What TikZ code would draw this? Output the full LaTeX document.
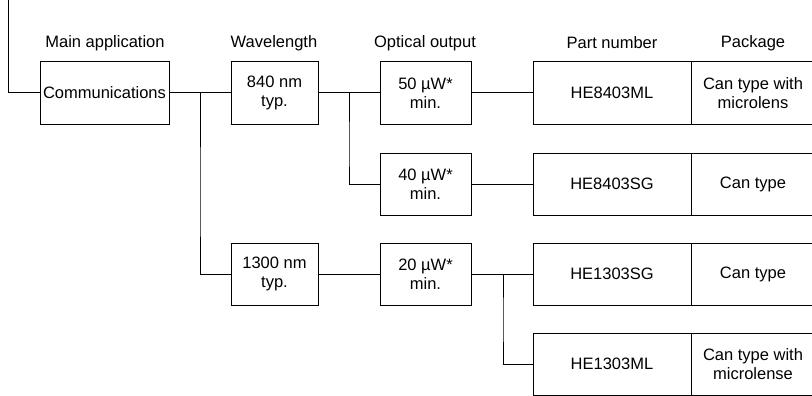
\documentclass[tikz,border=0pt]{standalone}
\usepackage{fontspec}
\setmainfont{Liberation Sans}
\usetikzlibrary{positioning}

\begin{document}
\begin{tikzpicture}[x=1pt,y=-1pt,
  every node/.style={font=\fontsize{16.5}{19.5}\selectfont},
  blk/.style={draw,line width=1pt,rectangle,align=center,minimum height=62pt,inner sep=0pt},
  wire/.style={line width=1pt}]
\useasboundingbox (0,0) rectangle (812,396);
\clip (0,0) rectangle (812,396);

% column heads
\node[] (H1) at (105,43) {Main application};
\node[] (H2) at (274,43) {Wavelength};
\node[] (H3) at (425,43) {Optical output};
\node[] (H4) at (612,43) {Part number};
\node[] (H5) at (753,43) {Package};

\node[blk,minimum width=129pt] (A1) at (104.5,93) {Communications};

\node[blk,minimum width=87pt] (B1) at (274.5,93) {840 nm\\typ.};
\node[blk,minimum width=87pt] (B2) at (274.5,274) {1300 nm\\typ.};

\node[blk,minimum width=91pt] (C1) at (425.5,93) {50 µW*\\min.};
\node[blk,minimum width=91pt] (C2) at (425.5,184) {40 µW*\\min.};
\node[blk,minimum width=91pt] (C3) at (425.5,274) {20 µW*\\min.};

\node[blk,minimum width=158pt] (D1) at (612,93) {HE8403ML};
\node[blk,minimum width=158pt] (D2) at (612,184) {HE8403SG};
\node[blk,minimum width=158pt] (D3) at (612,274) {HE1303SG};
\node[blk,minimum width=158pt] (D4) at (612,364) {HE1303ML};

\node[blk,minimum width=124pt] (E1) at (753,93) {Can type with\\microlens};
\node[blk,minimum width=124pt] (E2) at (753,184) {Can type};
\node[blk,minimum width=124pt] (E3) at (753,274) {Can type};
\node[blk,minimum width=124pt] (E4) at (753,364) {Can type with\\microlense};

\coordinate (T0) at (8,-2);

\draw[wire] (T0) |- (A1.west);
\draw[wire] (A1.east) -- (B1.west);
\draw[wire] (A1.east) -| (200,200) |- (B2.west);
\draw[wire] (B1.east) -- (C1.west);
\draw[wire] (B1.east) -| (349,150) |- (C2.west);
\draw[wire] (B2.east) -- (C3.west);
\draw[wire] (C1.east) -- (D1.west);
\draw[wire] (C2.east) -- (D2.west);
\draw[wire] (C3.east) -- (D3.west);
\draw[wire] (C3.east) -| (503,320) |- (D4.west);
\end{tikzpicture}
\end{document}
